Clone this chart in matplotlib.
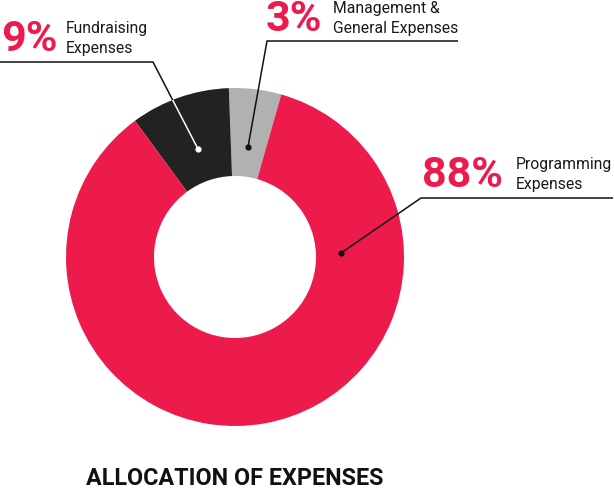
import numpy as np
import matplotlib
matplotlib.use('Agg')
import matplotlib.pyplot as plt

plt.rcParams['font.family'] = ['Roboto', 'DejaVu Sans']

# slice order: gray, dark, red (counter-clockwise from startangle)
categories = ['Management & General Expenses', 'Fundraising Expenses', 'Programming Expenses']
shares = [5.0, 9.5, 85.5]          # slice sizes as drawn
pct_labels = ['3%', '9%', '88%']
name_labels = [['Management &', 'General Expenses'], ['Fundraising', 'Expenses'], ['Programming', 'Expenses']]
colors = ['#b1b1b1', '#222222', '#ed1a4c']

W, H = 614, 489
fig = plt.figure(figsize=(W / 100, H / 100), dpi=100)
ax = fig.add_axes([0, 0, 1, 1])

def Y(y):
    return H - y

cx, cy, R, r_in = 235, 258, 169, 81
wedges, _ = ax.pie(shares, colors=colors, startangle=74.1, counterclock=True,
                   center=(cx, Y(cy)), radius=R,
                   wedgeprops=dict(width=R - r_in, edgecolor='none', linewidth=0))
ax.set_xlim(0, W)
ax.set_ylim(0, H)
ax.set_aspect('equal')
ax.axis('off')

# leader lines (pixel coords, y down): dot -> elbow -> end
leaders = [
    [(248, 148), (267, 42), (458, 42)],
    [(198, 150), (153, 63), (0, 63)],
    [(341, 254), (421, 199), (613, 199)],
]
for i, pts in enumerate(leaders):
    xs = [p[0] for p in pts]
    ys = [Y(p[1]) for p in pts]
    ax.plot(xs, ys, color='#111111', lw=1.1, zorder=5, solid_capstyle='butt')
    dot_c = '#111111'
    if i == 1:
        # white part of line inside the dark wedge
        ln, = ax.plot(xs, ys, color='white', lw=1.1, zorder=6)
        ln.set_clip_path(wedges[1])
        dot_c = 'white'
    ax.plot(xs[0], ys[0], 'o', color=dot_c, ms=4.5, mec='none', zorder=7)

# labels: (pct x, pct baseline, name x, first baseline)
label_pos = [(266, 31, 333, 13), (1, 51, 66, 33), (422, 187, 516, 169)]
for i, (px, pb, nx, nb) in enumerate(label_pos):
    ax.text(px, Y(pb), pct_labels[i], color='#ed1a4c', fontsize=31, fontweight='bold',
            ha='left', va='baseline')
    for j, line in enumerate(name_labels[i]):
        ax.text(nx, Y(nb + 20.5 * j), line, color='#1a1a1a', fontsize=11.3,
                ha='left', va='baseline')

ax.text(cx, Y(485), 'ALLOCATION OF EXPENSES', color='#111111', fontsize=16.8,
        fontweight='bold', ha='center', va='baseline')

fig.savefig('out.png', dpi=100, facecolor='white')
